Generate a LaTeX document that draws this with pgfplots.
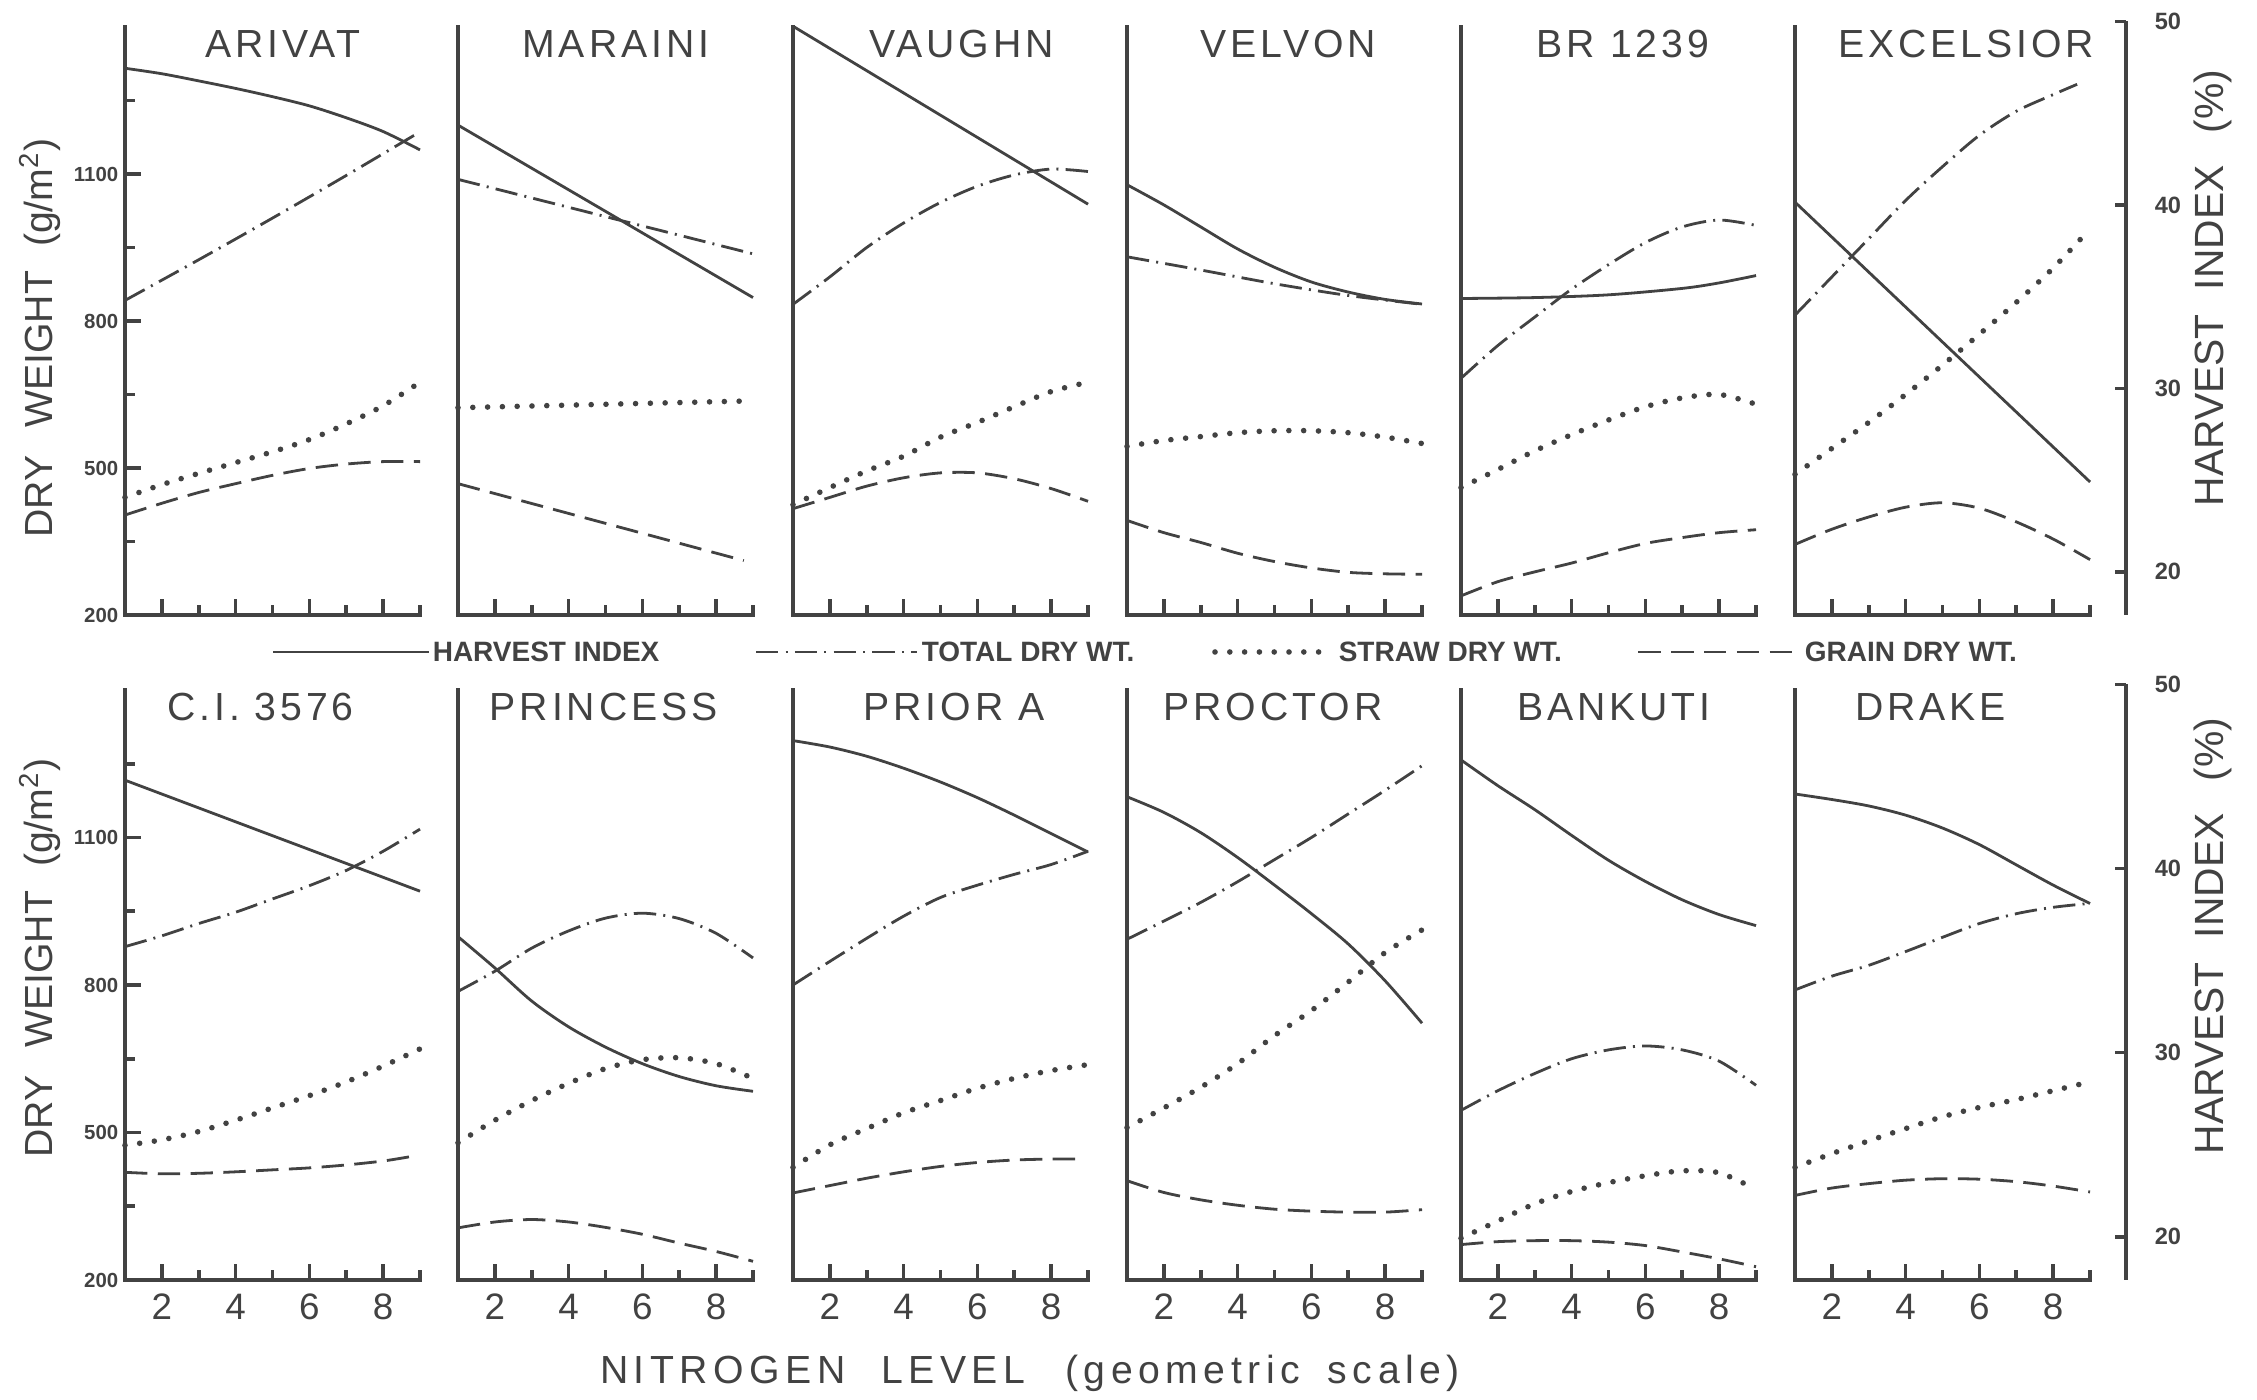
\documentclass[border=0pt]{standalone}
\usepackage{pgfplots}
\pgfplotsset{compat=1.18}
\usepackage{fontspec}
\setmainfont{Liberation Sans}
\newfontfamily\titlefont[LetterSpace=10]{Liberation Sans}
\newfontfamily\xlabfont[LetterSpace=14]{Liberation Sans}
\definecolor{ink}{RGB}{66,66,66}

\tikzset{
  lHI/.style={ink, line width=0.7pt},
  lTOT/.style={ink, line width=0.7pt, dash pattern=on 5.6pt off 1.8pt on 0.5pt off 1.8pt},
  lSTR/.style={ink, line width=1.4pt, line cap=round, dash pattern=on 0pt off 3.7pt},
  lGRN/.style={ink, line width=0.7pt, dash pattern=on 5.6pt off 2.6pt},
  ttl/.style={anchor=north, inner sep=0pt, yshift=-0.6pt, font=\titlefont\fontsize{9.8}{10}\selectfont, text=ink},
}

\pgfplotsset{
  panel/.style={scale only axis, width=73.75pt, xmin=1, xmax=9, ymin=200, ymax=1400,
    axis x line*=bottom, axis y line*=left, tick align=inside,
    xtick={2,4,6,8}, minor xtick={3,5,7,9}, ytick=\empty, xticklabels={},
    major tick length=4.1pt, minor tick length=2.4pt,
    axis line style={ink, line width=1pt, line cap=rect}, tick style={ink, line width=0.9pt},
    clip=false, anchor=south west, /pgf/number format/assume math mode=true},
  hiax/.style={scale only axis, width=73.75pt, xmin=1, xmax=9, ymin=17.65, ymax=49.7,
    hide axis, clip=false, anchor=south west},
  htop/.style={height=147pt},
  hbot/.style={height=147.5pt},
  xlab/.style={xticklabels={2,4,6,8}, xticklabel style={text=ink, font=\fontsize{9.2}{10}\selectfont, inner sep=0pt, yshift=-3.3pt}},
  ylab/.style={ytick={200,500,800,1100}, minor ytick={350,650,950,1250}, yticklabels={200,500,800,1100},
    yticklabel style={text=ink, font=\bfseries\fontsize{5.1}{6}\selectfont, inner sep=0pt, xshift=-1.5pt}},
  rax/.style={scale only axis, width=20pt, anchor=south east, xmin=0, xmax=1, ymin=17.65, ymax=50,
    axis x line=none, axis y line*=right, tick align=inside, ytick={20,30,40,50}, yticklabels={20,30,40,50},
    major tick length=2.75pt, axis line style={ink, line width=1pt}, tick style={ink, line width=0.9pt},
    yticklabel style={text=ink, font=\bfseries\fontsize{5.9}{6}\selectfont, inner sep=0pt, xshift=7pt, anchor=west}},
}

\def\rA{196.25pt}
\def\rB{30pt}
\def\cA{31.25pt}
\def\cB{114.5pt}
\def\cC{198.25pt}
\def\cD{281.75pt}
\def\cE{365.25pt}
\def\cF{448.75pt}

\begin{document}
\begin{tikzpicture}
\useasboundingbox (0,0) rectangle (564.25pt,350pt);

% ================= TOP ROW =================
% ARIVAT
\begin{axis}[panel, htop, ylab, at={(\cA,\rA)}]
\addplot[lTOT, smooth] coordinates {(1,842)(3,925)(5,1010)(7,1097)(9,1186)};
\addplot[lSTR, smooth] coordinates {(1,440)(2,466)(3,489)(4,511)(5,533)(6,558)(7,590)(8,627)(9,675)};
\addplot[lGRN, smooth] coordinates {(1,404)(2,428)(3,450)(4,468)(5,485)(6,499)(7,508)(8,513)(9,513)};
\node[ttl] at (rel axis cs:0.536,1) {ARIVAT};
\end{axis}
\begin{axis}[hiax, htop, at={(\cA,\rA)}]
\addplot[lHI, smooth] coordinates {(1,47.45)(2,47.15)(3,46.76)(4,46.35)(5,45.9)(6,45.4)(7,44.75)(8,44.0)(9,43.0)};
\end{axis}

% MARAINI
\begin{axis}[panel, htop, at={(\cB,\rA)}]
\addplot[lTOT] coordinates {(1,1089)(9,937)};
\addplot[lSTR, smooth] coordinates {(1,623)(5,630)(9,637)};
\addplot[lGRN] coordinates {(1,468)(8.75,311)};
\node[ttl] at (rel axis cs:0.535,1) {MARAINI};
\end{axis}
\begin{axis}[hiax, htop, at={(\cB,\rA)}]
\addplot[lHI] coordinates {(1,44.35)(9,34.95)};
\end{axis}

% VAUGHN
\begin{axis}[panel, htop, at={(\cC,\rA)}]
\addplot[lTOT, smooth] coordinates {(1,834)(2,890)(3,950)(4,1000)(5,1042)(6,1075)(7,1098)(8,1110)(9,1105)};
\addplot[lSTR, smooth] coordinates {(1,425)(2,460)(3,494)(4,524)(5,563)(6,593)(7,625)(8,656)(9,675)};
\addplot[lGRN, smooth] coordinates {(1,417)(2,440)(3,463)(4,480)(5,490)(6,490)(7,478)(8,458)(9,432)};
\node[ttl] at (rel axis cs:0.571,1) {VAUGHN};
\end{axis}
\begin{axis}[hiax, htop, at={(\cC,\rA)}]
\addplot[lHI] coordinates {(1,49.74)(9,40.04)};
\end{axis}

% VELVON
\begin{axis}[panel, htop, at={(\cD,\rA)}]
\addplot[lTOT, smooth] coordinates {(1,931)(3,904)(5,876)(7,852)(9,834)};
\addplot[lSTR, smooth] coordinates {(1,544)(2,556)(3,564)(4,572)(5,576)(6,576)(7,572)(8,563)(9,550)};
\addplot[lGRN, smooth] coordinates {(1,393)(2,368)(3,348)(4,326)(5,309)(6,296)(7,287)(8,284)(9,283)};
\node[ttl] at (rel axis cs:0.546,1) {VELVON};
\end{axis}
\begin{axis}[hiax, htop, at={(\cD,\rA)}]
\addplot[lHI, smooth] coordinates {(1,41.1)(2,40.0)(3,38.8)(4,37.6)(5,36.6)(6,35.8)(7,35.25)(8,34.85)(9,34.6)};
\end{axis}

% BR 1239
\begin{axis}[panel, htop, at={(\cE,\rA)}]
\addplot[lTOT, smooth] coordinates {(1,683)(2,750)(3,808)(4,865)(5,915)(6,960)(7,992)(8,1006)(9,995)};
\addplot[lSTR, smooth] coordinates {(1,460)(2,497)(3,535)(4,568)(5,598)(6,625)(7,643)(8,650)(9,630)};
\addplot[lGRN, smooth] coordinates {(1,239)(2,268)(3,288)(4,306)(5,327)(6,346)(7,358)(8,368)(9,374)};
\node[ttl] at (rel axis cs:0.549,1) {BR 1239};
\end{axis}
\begin{axis}[hiax, htop, at={(\cE,\rA)}]
\addplot[lHI, smooth] coordinates {(1,34.9)(3,34.95)(5,35.1)(7,35.45)(8,35.75)(9,36.15)};
\end{axis}

% EXCELSIOR
\begin{axis}[panel, htop, at={(\cF,\rA)}]
\addplot[lTOT, smooth] coordinates {(1,812)(2,890)(3,968)(4,1046)(5,1115)(6,1179)(7,1228)(8,1262)(8.65,1283)};
\addplot[lSTR, smooth] coordinates {(1,487)(2,540)(3,593)(4,650)(5,710)(6,773)(7,838)(8,908)(9,988)};
\addplot[lGRN, smooth] coordinates {(1,344)(2,375)(3,400)(4,420)(5,429)(6,418)(7,390)(8,355)(9,313)};
\node[ttl] at (rel axis cs:0.58,1) {EXCELSIOR};
\end{axis}
\begin{axis}[hiax, htop, at={(\cF,\rA)}]
\addplot[lHI] coordinates {(1,40.15)(9,24.9)};
\end{axis}

\begin{axis}[rax, height=148.38pt, at={(531.5pt,\rA)}]
\end{axis}

% ================= BOTTOM ROW =================
% C.I. 3576
\begin{axis}[panel, hbot, ylab, xlab, at={(\cA,\rB)}]
\addplot[lTOT, smooth] coordinates {(1,878)(2,900)(3,925)(4,948)(5,975)(6,1002)(7,1033)(8,1072)(9,1117)};
\addplot[lSTR, smooth] coordinates {(1,474)(2,485)(3,502)(4,525)(5,550)(6,575)(7,603)(8,635)(9,670)};
\addplot[lGRN, smooth] coordinates {(1,419)(2,416)(3,417)(4,420)(5,424)(6,428)(7,434)(8,442)(8.75,451)};
\node[ttl] at (rel axis cs:0.459,1) {C.I. 3576};
\end{axis}
\begin{axis}[hiax, hbot, at={(\cA,\rB)}]
\addplot[lHI] coordinates {(1,44.8)(9,38.77)};
\end{axis}

% PRINCESS
\begin{axis}[panel, hbot, xlab, at={(\cB,\rB)}]
\addplot[lTOT, smooth] coordinates {(1,787)(2,828)(3,875)(4,910)(5,936)(6,946)(7,935)(8,905)(9,855)};
\addplot[lSTR, smooth] coordinates {(1,479)(2,525)(3,565)(4,600)(5,630)(6,648)(7,652)(8,640)(9,610)};
\addplot[lGRN, smooth] coordinates {(1,306)(2,318)(3,323)(4,318)(5,307)(6,293)(7,275)(8,258)(9,238)};
\node[ttl] at (rel axis cs:0.494,1) {PRINCESS};
\end{axis}
\begin{axis}[hiax, hbot, at={(\cB,\rB)}]
\addplot[lHI, smooth] coordinates {(1,36.3)(2,34.6)(3,32.8)(4,31.4)(5,30.3)(6,29.4)(7,28.7)(8,28.2)(9,27.9)};
\end{axis}

% PRIOR A
\begin{axis}[panel, hbot, xlab, at={(\cC,\rB)}]
\addplot[lTOT, smooth] coordinates {(1,800)(2,848)(3,895)(4,940)(5,978)(6,1003)(7,1025)(8,1045)(9,1072)};
\addplot[lSTR, smooth] coordinates {(1,429)(2,475)(3,508)(4,540)(5,565)(6,590)(7,610)(8,626)(9,638)};
\addplot[lGRN, smooth] coordinates {(1,377)(2,392)(3,407)(4,420)(5,431)(6,439)(7,444)(8,446)(8.8,446)};
\node[ttl] at (rel axis cs:0.546,1) {PRIOR A};
\end{axis}
\begin{axis}[hiax, hbot, at={(\cC,\rB)}]
\addplot[lHI, smooth] coordinates {(1,46.95)(2,46.6)(3,46.1)(4,45.45)(5,44.7)(6,43.85)(7,42.9)(8,41.9)(9,40.9)};
\end{axis}

% PROCTOR
\begin{axis}[panel, hbot, xlab, at={(\cD,\rB)}]
\addplot[lTOT, smooth] coordinates {(1,893)(2,930)(3,968)(4,1010)(5,1055)(6,1100)(7,1148)(8,1196)(9,1246)};
\addplot[lSTR, smooth] coordinates {(1,510)(2,550)(3,592)(4,640)(5,697)(6,748)(7,806)(8,866)(9,912)};
\addplot[lGRN, smooth] coordinates {(1,402)(2,378)(3,363)(4,352)(5,344)(6,340)(7,338)(8,338)(9,343)};
\node[ttl] at (rel axis cs:0.495,1) {PROCTOR};
\end{axis}
\begin{axis}[hiax, hbot, at={(\cD,\rB)}]
\addplot[lHI, smooth] coordinates {(1,43.9)(2,43.05)(3,41.95)(4,40.6)(5,39.1)(6,37.55)(7,35.9)(8,33.9)(9,31.6)};
\end{axis}

% BANKUTI
\begin{axis}[panel, hbot, xlab, at={(\cE,\rB)}]
\addplot[lTOT, smooth] coordinates {(1,545)(2,585)(3,620)(4,650)(5,668)(6,676)(7,668)(8,645)(9,596)};
\addplot[lSTR, smooth] coordinates {(1,285)(2,320)(3,355)(4,380)(5,398)(6,412)(7,422)(8,418)(9,384)};
\addplot[lGRN, smooth] coordinates {(1,272)(2,278)(3,280)(4,280)(5,277)(6,270)(7,257)(8,243)(9,227)};
\node[ttl] at (rel axis cs:0.518,1) {BANKUTI};
\end{axis}
\begin{axis}[hiax, hbot, at={(\cE,\rB)}]
\addplot[lHI, smooth] coordinates {(1,45.9)(2,44.5)(3,43.2)(4,41.8)(5,40.45)(6,39.3)(7,38.3)(8,37.5)(9,36.9)};
\end{axis}

% DRAKE
\begin{axis}[panel, hbot, xlab, at={(\cF,\rB)}]
\addplot[lTOT, smooth] coordinates {(1,790)(2,818)(3,840)(4,868)(5,897)(6,925)(7,945)(8,958)(9,966)};
\addplot[lSTR, smooth] coordinates {(1,429)(2,457)(3,483)(4,508)(5,532)(6,551)(7,567)(8,585)(9,603)};
\addplot[lGRN, smooth] coordinates {(1,372)(2,387)(3,396)(4,403)(5,406)(6,405)(7,400)(8,391)(9,379)};
\node[ttl] at (rel axis cs:0.46,1) {DRAKE};
\end{axis}
\begin{axis}[hiax, hbot, at={(\cF,\rB)}]
\addplot[lHI, smooth] coordinates {(1,44.05)(2,43.75)(3,43.4)(4,42.9)(5,42.2)(6,41.3)(7,40.2)(8,39.1)(9,38.1)};
\end{axis}

\begin{axis}[rax, height=148.88pt, at={(531.5pt,\rB)}]
\end{axis}

% ================= LABELS & LEGEND =================
\node[rotate=90, text=ink, font=\fontsize{9.8}{10}\selectfont] at (10pt,265.5pt) {DRY\hspace{7pt}WEIGHT\hspace{6pt}(g/m\textsuperscript{2})};
\node[rotate=90, text=ink, font=\fontsize{9.8}{10}\selectfont] at (10pt,110.5pt) {DRY\hspace{7pt}WEIGHT\hspace{6pt}(g/m\textsuperscript{2})};
\node[rotate=90, text=ink, font=\fontsize{10.2}{11}\selectfont] at (553.25pt,278pt) {HARVEST\hspace{6pt}INDEX\hspace{8pt}(\%)};
\node[rotate=90, text=ink, font=\fontsize{10.2}{11}\selectfont] at (553.25pt,116pt) {HARVEST\hspace{6pt}INDEX\hspace{8pt}(\%)};
\node[anchor=base, text=ink, font=\xlabfont\fontsize{9.8}{10}\selectfont] at (257.5pt,4.1pt) {NITROGEN\hspace{9pt}LEVEL\hspace{10pt}(geometric\hspace{7pt}scale)};

\draw[lHI] (68.25pt,187pt) -- (107.25pt,187pt);
\node[anchor=west, inner sep=0pt, text=ink, font=\bfseries\fontsize{7}{8}\selectfont] at (108pt,187pt) {HARVEST INDEX};
\draw[lTOT] (189pt,187pt) -- (229.25pt,187pt);
\node[anchor=west, inner sep=0pt, text=ink, font=\bfseries\fontsize{7}{8}\selectfont] at (230.25pt,187pt) {TOTAL DRY WT.};
\draw[lSTR] (303.75pt,187pt) -- (330pt,187pt);
\node[anchor=west, inner sep=0pt, text=ink, font=\bfseries\fontsize{7}{8}\selectfont] at (334.5pt,187pt) {STRAW DRY WT.};
\draw[lGRN] (409.6pt,187pt) -- (449.25pt,187pt);
\node[anchor=west, inner sep=0pt, text=ink, font=\bfseries\fontsize{7}{8}\selectfont] at (451pt,187pt) {GRAIN DRY WT.};
\end{tikzpicture}
\end{document}
